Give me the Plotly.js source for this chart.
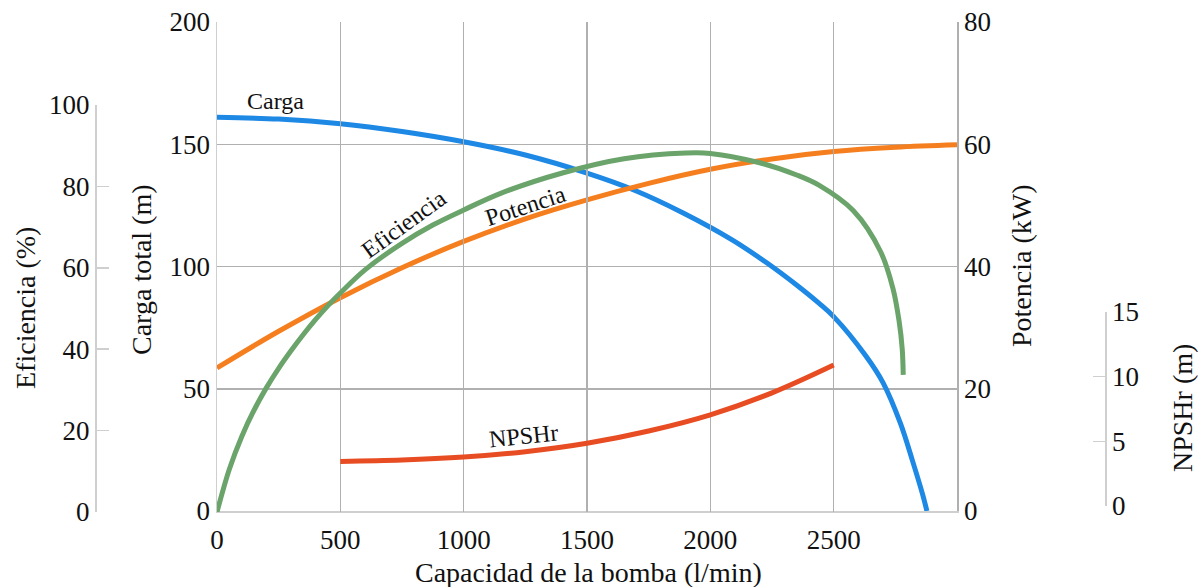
<!DOCTYPE html>
<html>
<head>
<meta charset="utf-8">
<script src="https://cdn.plot.ly/plotly-3.0.1.min.js"></script>
<style>html,body{margin:0;padding:0;background:#fff;}#chart{width:1201px;height:587px;}</style>
</head>
<body>
<div id="chart"></div>
<script>
// Capacidad de la bomba (l/min) and curve values
const cargaX = [0, 250, 500, 750, 1000, 1250, 1500, 1690, 1890, 2090, 2230, 2360, 2440, 2500, 2630, 2700, 2770, 2820, 2860, 2878];
const cargaY = [161, 160.3, 158.4, 155.2, 151, 145.6, 138.2, 131.3, 121.9, 110.8, 101.4, 91.6, 85, 79.5, 63.5, 52.5, 36, 20.4, 7, 0];

const potenciaX = [0, 250, 500, 750, 1000, 1250, 1500, 1750, 2000, 2250, 2500, 2750, 3000];
const potenciaY = [23.4, 29.4, 34.9, 39.8, 44.1, 47.8, 50.9, 53.6, 55.9, 57.6, 58.8, 59.5, 59.9];

const eficienciaX = [0, 50, 100, 150, 200, 250, 300, 350, 400, 450, 500, 600, 750, 875, 1000, 1150, 1400, 1650, 1900, 2000, 2200, 2350, 2440, 2580, 2690, 2740, 2765, 2778, 2782];
const eficienciaY = [0, 10.5, 18.5, 25, 30.5, 35.3, 39.6, 43.6, 47.3, 50.7, 53.8, 59.5, 66, 70.5, 74.2, 78.3, 83.3, 86.8, 88.2, 88.1, 85.8, 82.8, 80.3, 74, 64, 55, 47, 40, 33.7];

const npshX = [500, 750, 1000, 1250, 1500, 1750, 2000, 2250, 2500];
const npshY = [3.45, 3.55, 3.78, 4.2, 4.85, 5.8, 7.05, 8.75, 10.9];

const xTicks = [0, 500, 1000, 1500, 2000, 2500];
const cargaTicks = [0, 50, 100, 150, 200];
const potenciaTicks = [0, 20, 40, 60, 80];
const eficienciaTicks = [0, 20, 40, 60, 80, 100];
const npshTicks = [0, 5, 10, 15];

const W = 1201, H = 587;
const px = v => v / W;
const py = v => 1 - v / H;
const FONT = 'Liberation Serif, Times New Roman, serif';
const gridC = '#b0b0b0';
const lineC = '#cfcfcf';

const traces = [
  {x: cargaX, y: cargaY, xaxis: 'x', yaxis: 'y', mode: 'lines', name: 'Carga',
   line: {color: '#1e88e5', width: 5, shape: 'spline', smoothing: 1}, hoverinfo: 'x+y'},
  {x: eficienciaX, y: eficienciaY, xaxis: 'x', yaxis: 'y3', mode: 'lines', name: 'Eficiencia',
   line: {color: '#6aa46a', width: 5, shape: 'spline', smoothing: 1}, hoverinfo: 'x+y'},
  {x: potenciaX, y: potenciaY, xaxis: 'x', yaxis: 'y2', mode: 'lines', name: 'Potencia',
   line: {color: '#f57f1f', width: 5, shape: 'spline', smoothing: 1}, hoverinfo: 'x+y'},
  {x: npshX, y: npshY, xaxis: 'x', yaxis: 'y4', mode: 'lines', name: 'NPSHr',
   line: {color: '#e84c22', width: 5, shape: 'spline', smoothing: 1}, hoverinfo: 'x+y'}
];

const tickFont = {family: FONT, size: 27, color: '#111'};
const titleFont = {family: FONT, size: 28, color: '#111'};
const labelFont = {family: FONT, size: 24, color: '#111'};

function ann(text, x, y, angle, font) {
  return {text: text, xref: 'paper', yref: 'paper', x: px(x), y: py(y),
          xanchor: 'center', yanchor: 'middle', showarrow: false,
          textangle: angle, font: font};
}

const layout = {
  width: W, height: H, autosize: false,
  margin: {l: 0, r: 0, t: 0, b: 0, pad: 0},
  paper_bgcolor: '#fff', plot_bgcolor: 'rgba(0,0,0,0)',
  showlegend: false,
  font: {family: FONT, size: 27, color: '#111'},
  xaxis: {
    domain: [px(217), px(957)], range: [0, 3000], anchor: 'y',
    tickvals: xTicks, ticktext: xTicks.map(String), tickfont: tickFont,
    showgrid: true, gridcolor: gridC, gridwidth: 1.5,
    showline: true, linecolor: lineC, linewidth: 1.5,
    zeroline: false, ticks: '', ticklabelstandoff: 4
  },
  yaxis: {
    domain: [py(511), py(22)], range: [0, 200], anchor: 'x',
    tickvals: cargaTicks, tickfont: tickFont,
    showgrid: true, gridcolor: gridC, gridwidth: 1.5,
    showline: true, linecolor: lineC, linewidth: 1.5,
    zeroline: false, ticks: ''
  },
  yaxis2: {
    overlaying: 'y', side: 'right', anchor: 'x', range: [0, 80],
    tickvals: potenciaTicks, tickfont: tickFont,
    showgrid: false, zeroline: false,
    showline: true, linecolor: gridC, linewidth: 1.5, ticks: ''
  },
  yaxis3: {
    domain: [py(512), py(105)], range: [0, 100], anchor: 'free', position: px(95), side: 'left',
    tickvals: eficienciaTicks, tickfont: tickFont,
    showgrid: false, zeroline: false,
    showline: true, linecolor: lineC, linewidth: 1.5,
    ticks: 'inside', ticklen: 12, tickwidth: 1.5, tickcolor: lineC
  },
  yaxis4: {
    domain: [py(506), py(312)], range: [0, 15], anchor: 'free', position: px(1105), side: 'right',
    tickvals: npshTicks, tickfont: tickFont,
    showgrid: false, zeroline: false,
    showline: true, linecolor: lineC, linewidth: 1.5,
    ticks: 'inside', ticklen: 12, tickwidth: 1.5, tickcolor: lineC
  },
  annotations: [
    ann('Capacidad de la bomba (l/min)', 588, 572, 0, titleFont),
    ann('Eficiencia (%)', 25, 308, -90, titleFont),
    ann('Carga total (m)', 141, 270, -90, titleFont),
    ann('Potencia (kW)', 1021, 266, -90, titleFont),
    ann('NPSHr (m)', 1182, 408, -90, titleFont),
    ann('Carga', 275, 101, 0, labelFont),
    ann('Eficiencia', 404, 224, -36, labelFont),
    ann('Potencia', 525, 206, -18, labelFont),
    ann('NPSHr', 523, 436, -6, labelFont)
  ]
};

Plotly.newPlot('chart', traces, layout, {staticPlot: true, displayModeBar: false});
</script>
</body>
</html>
